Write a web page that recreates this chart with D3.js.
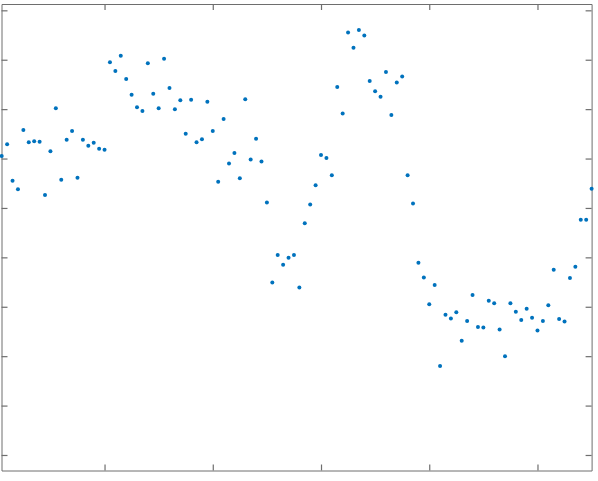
<!DOCTYPE html>
<html>
<head>
<meta charset="utf-8">
<script src="https://cdn.jsdelivr.net/npm/d3@7"></script>
<style>
  html, body { margin: 0; padding: 0; background: #fff; }
  #chart { width: 598px; height: 481px; }
</style>
</head>
<body>
<div id="chart"></div>
<script>
// sample index (1..110) and measured value per sample
const xIndex = d3.range(1, 111);
const yValue = [
  6.05, 6.29, 5.55, 5.38, 6.58, 6.33, 6.35, 6.34, 5.26, 6.15,
  7.02, 5.57, 6.38, 6.56, 5.61, 6.38, 6.26, 6.32, 6.20, 6.18,
  7.95, 7.77, 8.08, 7.61, 7.29, 7.04, 6.96, 7.93, 7.31, 7.02,
  8.02, 7.43, 7.00, 7.18, 6.50, 7.19, 6.33, 6.39, 7.15, 6.56,
  5.53, 6.80, 5.90, 6.11, 5.60, 7.20, 5.98, 6.40, 5.94, 5.11,
  3.49, 4.05, 3.85, 3.99, 4.05, 3.39, 4.69, 5.07, 5.46, 6.07,
  6.01, 5.66, 7.45, 6.91, 8.55, 8.24, 8.60, 8.49, 7.57, 7.36,
  7.25, 7.75, 6.88, 7.54, 7.66, 5.66, 5.09, 3.89, 3.59, 3.05,
  3.44, 1.80, 2.84, 2.76, 2.89, 2.31, 2.71, 3.24, 2.59, 2.58,
  3.12, 3.07, 2.54, 2.00, 3.07, 2.90, 2.73, 2.96, 2.78, 2.52,
  2.71, 3.03, 3.75, 2.75, 2.70, 3.58, 3.81, 4.76, 4.76, 5.39
];
const xTicks = [20, 40, 60, 80, 100];
const yTicks = d3.range(0, 10);

const width_svg = 598, height_svg = 481;
const margin = {top: 4, right: 6.4, bottom: 10.5, left: 1.5};
const dotColor = '#0072BD', axisColor = '#6e6e6e';

const svg = d3.select('#chart')
              .append('svg')
              .attr('width', width_svg)
              .attr('height', height_svg);

const xScale = d3.scaleLinear()
                 .domain([0.96, 110])
                 .range([margin.left, width_svg - margin.right]);
const yScale = d3.scaleLinear()
                 .domain([-0.314, 9.128])
                 .range([height_svg - margin.bottom, margin.top]);

// box with inward ticks on all four sides, no labels
function styleAxis(g){
  g.selectAll('.domain').attr('stroke', axisColor).attr('stroke-width', 1);
  g.selectAll('.tick line').attr('stroke', axisColor).attr('stroke-width', 1.2);
  g.selectAll('.tick text').remove();
}
svg.append('g')
   .attr('transform', `translate(0, ${height_svg - margin.bottom})`)
   .call(d3.axisBottom(xScale).tickValues(xTicks).tickSizeInner(-6).tickSizeOuter(0).tickFormat(''))
   .call(styleAxis);
svg.append('g')
   .attr('transform', `translate(0, ${margin.top})`)
   .call(d3.axisTop(xScale).tickValues(xTicks).tickSizeInner(-6).tickSizeOuter(0).tickFormat(''))
   .call(styleAxis);
svg.append('g')
   .attr('transform', `translate(${margin.left}, 0)`)
   .call(d3.axisLeft(yScale).tickValues(yTicks).tickSizeInner(-6).tickSizeOuter(0).tickFormat(''))
   .call(styleAxis);
svg.append('g')
   .attr('transform', `translate(${width_svg - margin.right}, 0)`)
   .call(d3.axisRight(yScale).tickValues(yTicks).tickSizeInner(-6).tickSizeOuter(0).tickFormat(''))
   .call(styleAxis);

// scatter points
svg.append('g')
   .attr('fill', dotColor)
   .selectAll('circle')
   .data(xIndex)
   .enter()
   .append('circle')
   .attr('cx', d => xScale(d))
   .attr('cy', (d, i) => yScale(yValue[i]))
   .attr('r', 2);
</script>
</body>
</html>
